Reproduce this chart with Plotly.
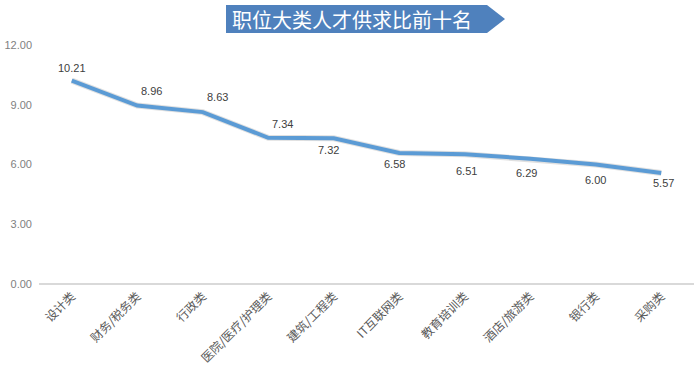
import plotly.graph_objects as go

categories = ["设计类", "财务/税务类", "行政类", "医院/医疗/护理类", "建筑/工程类",
              "IT互联网类", "教育培训类", "酒店/旅游类", "银行类", "采购类"]
values = [10.21, 8.96, 8.63, 7.34, 7.32, 6.58, 6.51, 6.29, 6.00, 5.57]
y_ticks = [0, 3, 6, 9, 12]
title_text = "职位大类人才供求比前十名"

# label pixel offsets (style)
label_shift = [(0, 13), (14, 15), (15, 15), (14, 14), (-5, -12),
               (-5, -11), (2, -17), (-4, -14), (0, -15), (2, -10)]

fig = go.Figure()
fig.add_trace(go.Scatter(
    x=categories, y=values, mode="lines",
    line=dict(color="rgba(0,0,0,0.12)", width=6),
    hoverinfo="skip", showlegend=False))
fig.add_trace(go.Scatter(
    x=categories, y=values, mode="lines",
    line=dict(color="#5B9BD5", width=4),
    showlegend=False))

for c, v, (dx, dy) in zip(categories, values, label_shift):
    fig.add_annotation(x=c, y=v, text=f"{v:.2f}", showarrow=False,
                       xshift=dx, yshift=dy,
                       font=dict(family="Liberation Sans, Arial", size=11, color="#404040"))

# title banner (pentagon arrow)
fig.add_shape(type="path", xref="paper", yref="paper",
              path="M 0.2855 1.167 L 0.684 1.167 L 0.7115 1.1085 L 0.684 1.050 L 0.2855 1.050 Z",
              fillcolor="#4F81BD", line=dict(width=0), layer="above")
fig.add_annotation(xref="paper", yref="paper", x=0.478, y=1.1085, text=title_text,
                   showarrow=False, xanchor="center", yanchor="middle",
                   font=dict(family="Noto Sans CJK SC", size=20, color="white"))

fig.update_layout(
    width=700, height=368,
    margin=dict(l=39, r=6, t=45, b=84, autoexpand=False),
    paper_bgcolor="white", plot_bgcolor="white",
    xaxis=dict(type="category", range=[-0.5, 9.5], tickangle=-45, automargin=False,
               showgrid=False, showline=False, zeroline=False, ticks="",
               ticklabelstandoff=2,
               tickfont=dict(family="Noto Sans CJK SC", size=12, color="#595959")),
    yaxis=dict(range=[0, 12], tickvals=y_ticks, tickformat=".2f", automargin=False,
               showgrid=False, zeroline=True, zerolinecolor="#D9D9D9", zerolinewidth=1.5,
               showline=False, ticks="", ticklen=0, ticklabelstandoff=6,
               tickfont=dict(family="Liberation Sans, Arial", size=11, color="#7F7F7F")),
)
fig.write_html("out.html")
